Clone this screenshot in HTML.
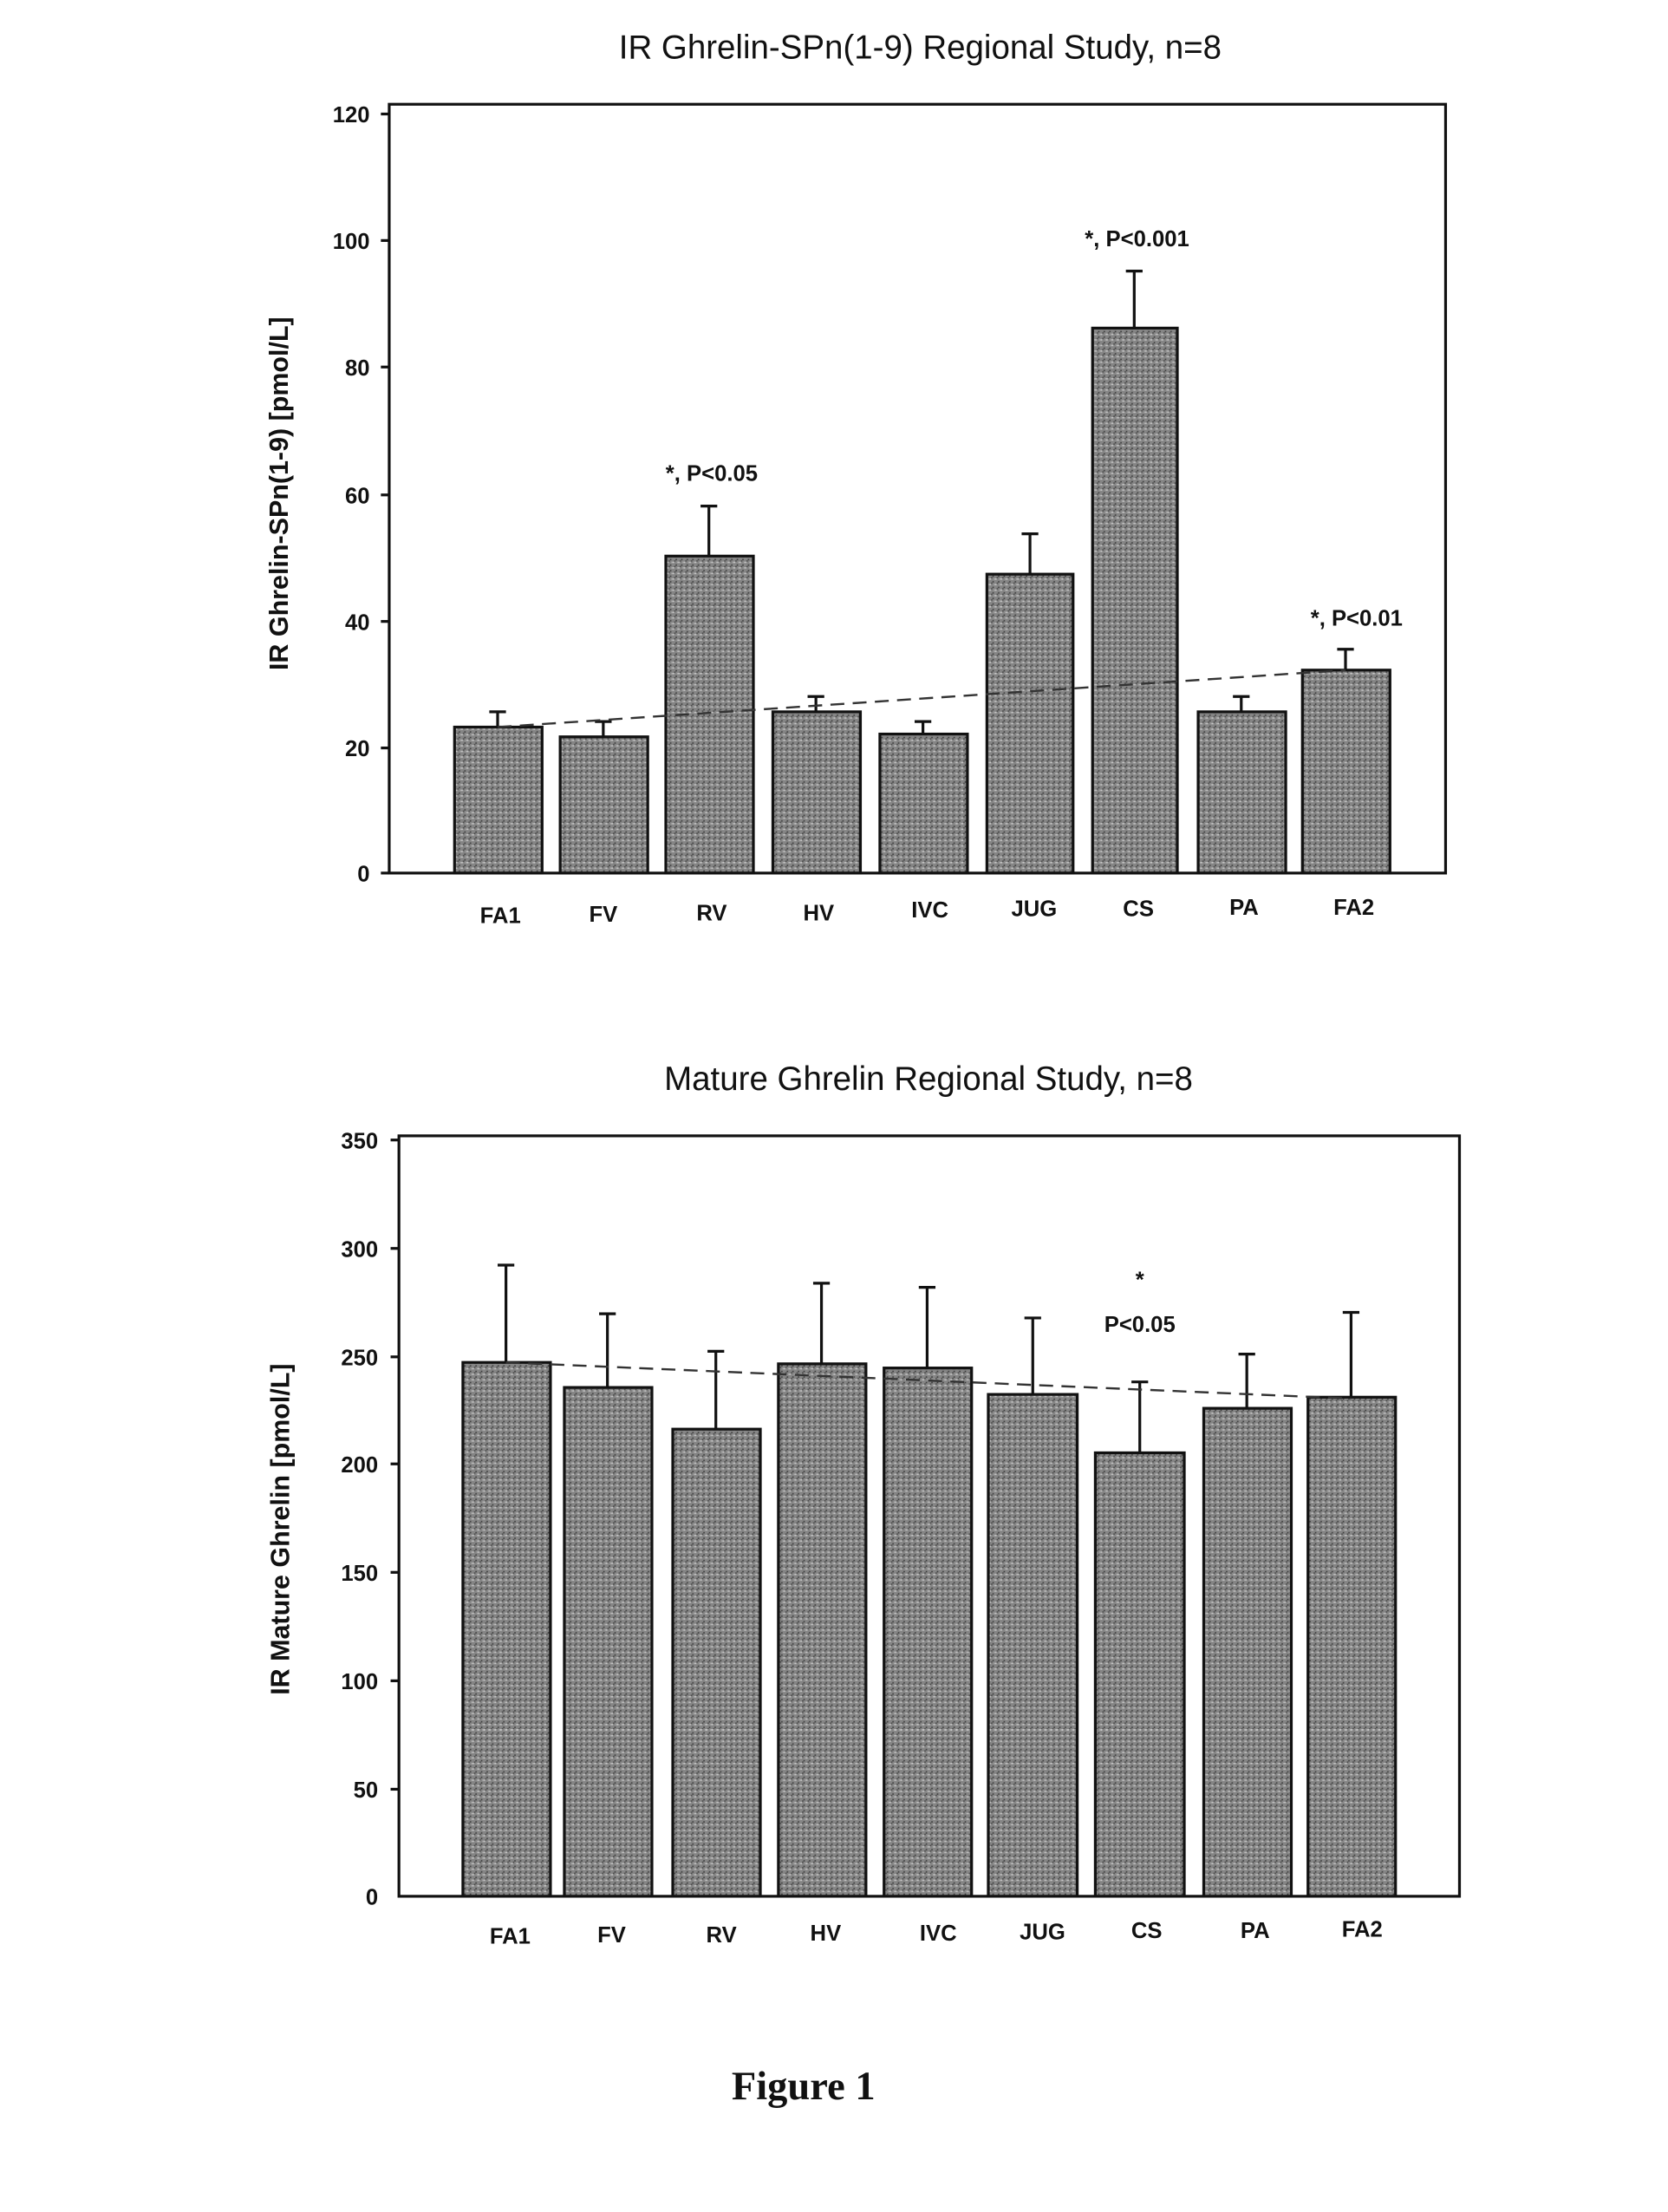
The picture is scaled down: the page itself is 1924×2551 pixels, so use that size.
<!DOCTYPE html>
<html><head><meta charset="utf-8"><style>
html,body{margin:0;padding:0;background:#fff;}
svg{display:block;}
text{font-family:"Liberation Sans",Arial,sans-serif;fill:#111;}
</style></head><body>
<svg width="1924" height="2551" viewBox="0 0 1200 1591.1" xmlns="http://www.w3.org/2000/svg">
<defs>
<pattern id="st" width="4" height="4" patternUnits="userSpaceOnUse">
<rect width="4" height="4" fill="#858585"/>
<rect x="0" y="0" width="1" height="1" fill="#c8c8c8"/>
<rect x="2" y="2" width="1" height="1" fill="#3a3a3a"/>
<rect x="3" y="0" width="1" height="1" fill="#b0b0b0"/>
<rect x="1" y="3" width="1" height="1" fill="#4a4a4a"/>
</pattern>
</defs>
<!-- Top chart -->
<text x="662" y="42" font-size="24" text-anchor="middle">IR Ghrelin-SPn(1-9) Regional Study, n=8</text>
<rect x="280" y="75" width="760" height="553" fill="none" stroke="#111" stroke-width="2"/>
<g font-size="16" font-weight="bold" text-anchor="end">
<text x="266" y="88">120</text><text x="266" y="179">100</text><text x="266" y="270">80</text>
<text x="266" y="362">60</text><text x="266" y="453">40</text><text x="266" y="544">20</text><text x="266" y="634">0</text>
</g>
<g stroke="#111" stroke-width="2">
<line x1="274" y1="82" x2="280" y2="82"/><line x1="274" y1="173" x2="280" y2="173"/><line x1="274" y1="264" x2="280" y2="264"/>
<line x1="274" y1="356" x2="280" y2="356"/><line x1="274" y1="447" x2="280" y2="447"/><line x1="274" y1="538" x2="280" y2="538"/><line x1="274" y1="628" x2="280" y2="628"/>
</g>
<text transform="translate(207,355) rotate(-90)" font-size="19" font-weight="bold" text-anchor="middle">IR Ghrelin-SPn(1-9) [pmol/L]</text>
<g stroke="#111" stroke-width="2" fill="url(#st)">
<rect x="327" y="523" width="63" height="105"/><rect x="403" y="530" width="63" height="98"/>
<rect x="479" y="400" width="63" height="228"/><rect x="556" y="512" width="63" height="116"/>
<rect x="633" y="528" width="63" height="100"/><rect x="710" y="413" width="62" height="215"/>
<rect x="786" y="236" width="61" height="392"/><rect x="862" y="512" width="63" height="116"/>
<rect x="937" y="482" width="63" height="146"/>
</g>
<g stroke="#111" stroke-width="2">
<path d="M358 523V512M352 512h12"/><path d="M434 530V519M428 519h12"/>
<path d="M510 400V364M504 364h12"/><path d="M587 512V501M581 501h12"/>
<path d="M664 528V519M658 519h12"/><path d="M741 413V384M735 384h12"/>
<path d="M816 236V195M810 195h12"/><path d="M893 512V501M887 501h12"/>
<path d="M968 482V467M962 467h12"/>
</g>
<line x1="358" y1="523" x2="968" y2="482" stroke="#333" stroke-width="1.5" stroke-dasharray="10,6"/>
<g font-size="16" font-weight="bold" text-anchor="middle">
<text x="512" y="346">*, P&lt;0.05</text><text x="818" y="177">*, P&lt;0.001</text><text x="976" y="450">*, P&lt;0.01</text>
<text x="360" y="664">FA1</text><text x="434" y="663">FV</text><text x="512" y="662">RV</text><text x="589" y="662">HV</text>
<text x="669" y="660">IVC</text><text x="744" y="659">JUG</text><text x="819" y="659">CS</text><text x="895" y="658">PA</text><text x="974" y="658">FA2</text>
</g>
<!-- Bottom chart -->
<text x="668" y="784" font-size="24" text-anchor="middle">Mature Ghrelin Regional Study, n=8</text>
<rect x="287" y="817" width="763" height="547" fill="none" stroke="#111" stroke-width="2"/>
<g font-size="16" font-weight="bold" text-anchor="end">
<text x="272" y="826">350</text><text x="272" y="904">300</text><text x="272" y="982">250</text><text x="272" y="1059">200</text>
<text x="272" y="1137">150</text><text x="272" y="1215">100</text><text x="272" y="1293">50</text><text x="272" y="1370">0</text>
</g>
<g stroke="#111" stroke-width="2">
<line x1="281" y1="820" x2="287" y2="820"/><line x1="281" y1="898" x2="287" y2="898"/><line x1="281" y1="976" x2="287" y2="976"/>
<line x1="281" y1="1053" x2="287" y2="1053"/><line x1="281" y1="1131" x2="287" y2="1131"/><line x1="281" y1="1209" x2="287" y2="1209"/>
<line x1="281" y1="1287" x2="287" y2="1287"/>
</g>
<text transform="translate(208,1100) rotate(-90)" font-size="19" font-weight="bold" text-anchor="middle">IR Mature Ghrelin [pmol/L]</text>
<g stroke="#111" stroke-width="2" fill="url(#st)">
<rect x="333" y="980" width="63" height="384"/><rect x="406" y="998" width="63" height="366"/>
<rect x="484" y="1028" width="63" height="336"/><rect x="560" y="981" width="63" height="383"/>
<rect x="636" y="984" width="63" height="380"/><rect x="711" y="1003" width="64" height="361"/>
<rect x="788" y="1045" width="64" height="319"/><rect x="866" y="1013" width="63" height="351"/>
<rect x="941" y="1005" width="63" height="359"/>
</g>
<g stroke="#111" stroke-width="2">
<path d="M364 980V910M358 910h12"/><path d="M437 998V945M431 945h12"/>
<path d="M515 1028V972M509 972h12"/><path d="M591 981V923M585 923h12"/>
<path d="M667 984V926M661 926h12"/><path d="M743 1003V948M737 948h12"/>
<path d="M820 1045V994M814 994h12"/><path d="M897 1013V974M891 974h12"/>
<path d="M972 1005V944M966 944h12"/>
</g>
<line x1="364" y1="980" x2="972" y2="1006" stroke="#333" stroke-width="1.5" stroke-dasharray="10,6"/>
<g font-size="16" font-weight="bold" text-anchor="middle">
<text x="820" y="926">*</text><text x="820" y="958">P&lt;0.05</text>
<text x="367" y="1398">FA1</text><text x="440" y="1397">FV</text><text x="519" y="1397">RV</text><text x="594" y="1396">HV</text>
<text x="675" y="1396">IVC</text><text x="750" y="1395">JUG</text><text x="825" y="1394">CS</text><text x="903" y="1394">PA</text><text x="980" y="1393">FA2</text>
</g>
<text x="578" y="1510" font-size="29" font-weight="bold" text-anchor="middle" style="font-family:'Liberation Serif',serif">Figure 1</text>
</svg>
</body></html>
